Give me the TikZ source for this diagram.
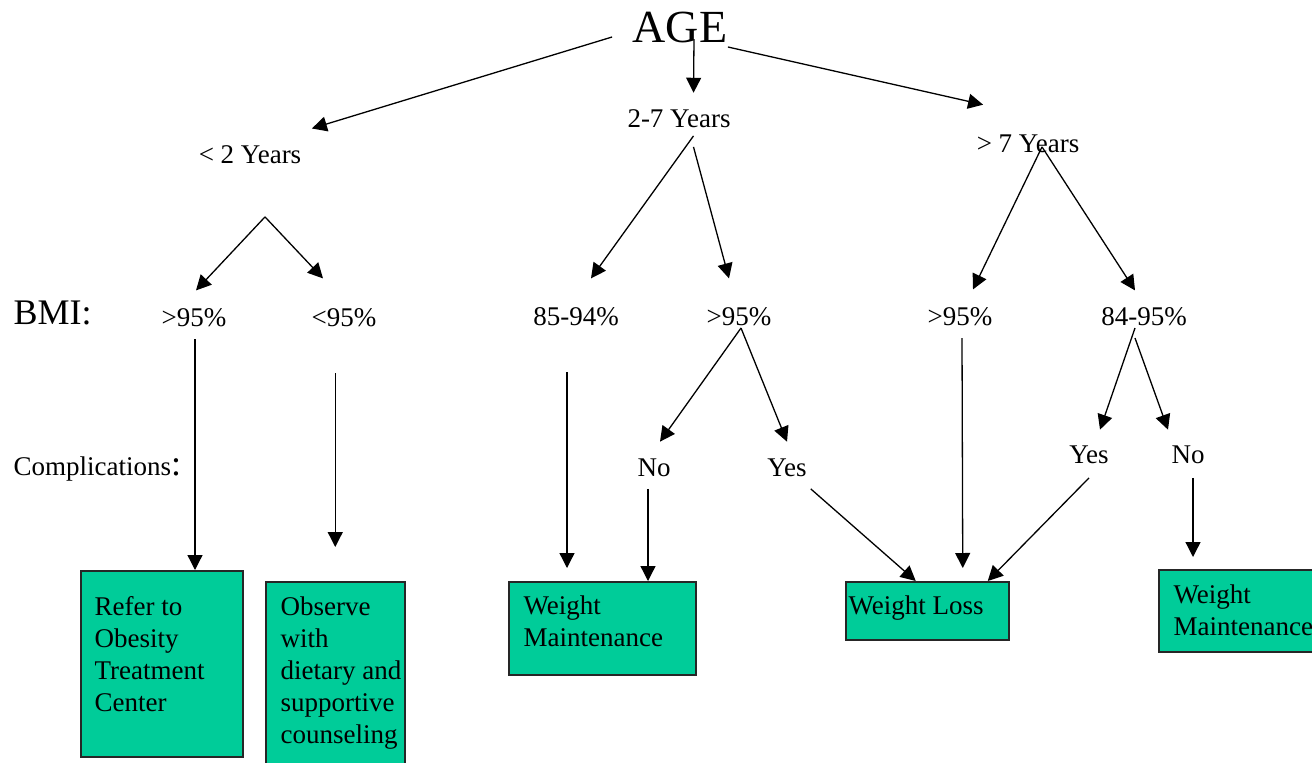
\documentclass[tikz,border=0pt]{standalone}
\usepackage{fontspec}
\setmainfont{Liberation Serif}
\usetikzlibrary{arrows.meta}
\definecolor{outgreen}{RGB}{0,204,153}

\begin{document}
\begin{tikzpicture}[x=1pt,y=-1pt,line width=1.3pt,>={Triangle[length=15pt,width=15pt]},
  lbl/.style={inner sep=0pt,anchor=base,font=\fontsize{27}{32}\selectfont},
  outcome/.style={draw=black!85,line width=1.5pt,fill=outgreen,inner sep=0pt,anchor=north west},
  outtext/.style={inner sep=0pt,anchor=north west,align=left,font=\fontsize{27}{32}\selectfont}]
  \useasboundingbox (0,0) rectangle (1312,763);
  % niveles
  \node[lbl,font=\fontsize{46}{50}\selectfont] (age) at (680,42) {AGE};
  \node[lbl] (lt2) at (250,163) {< 2 Years};
  \node[lbl] (y27) at (679,127) {2-7 Years};
  \node[lbl] (gt7) at (1028,152) {> 7 Years};
  \node[lbl,anchor=base west,font=\fontsize{36}{40}\selectfont] (bmi) at (13,324) {BMI:};
  \node[lbl,anchor=base west] (cmp) at (13,475) {Complications{\fontsize{36}{40}\selectfont:}};
  % BMI
  \node[lbl] (pA) at (194,326) {>95\%};
  \node[lbl] (pB) at (344,326) {<95\%};
  \node[lbl] (pC) at (576,325) {85-94\%};
  \node[lbl] (pD) at (739,325) {>95\%};
  \node[lbl] (pE) at (960,325) {>95\%};
  \node[lbl] (pF) at (1144,325) {84-95\%};
  % complicaciones
  \node[lbl] (no1) at (654,476) {No};
  \node[lbl] (yes1) at (787,476) {Yes};
  \node[lbl] (yes2) at (1089,463) {Yes};
  \node[lbl] (no2) at (1188,463) {No};
  % cajas
  \node[outcome,minimum width=162pt,minimum height=186pt] (refer) at (80,570) {};
  \node[outtext] (referT) at (94,596) {Refer to\\Obesity\\Treatment\\Center};
  \node[outcome,minimum width=139pt,minimum height=184pt] (observe) at (265,581) {};
  \node[outtext] (observeT) at (280,596) {Observe\\with\\dietary and\\supportive\\counseling};
  \node[outcome,minimum width=187pt,minimum height=93pt] (maintA) at (508,581) {};
  \node[outtext] (maintAT) at (523,595) {Weight\\Maintenance};
  \node[outcome,minimum width=163pt,minimum height=58pt] (loss) at (845,581) {};
  \node[outtext] (lossT) at (848,595) {Weight Loss};
  \node[outcome,minimum width=160pt,minimum height=82pt] (maintB) at (1158,569) {};
  \node[outtext] (maintBT) at (1173,584) {Weight\\Maintenance};
  % flechas desde AGE
  \draw[->] ([xshift=-20pt,yshift=-10pt]age.west) -- ([xshift=10pt,yshift=16pt]lt2.north east);
  \draw[->] ([xshift=14pt,yshift=4pt]age.south) -- ([xshift=14.5pt,yshift=15.7pt]y27.north);
  \draw[->] ([yshift=-20pt]age.east) -- ([xshift=7pt,yshift=29pt]gt7.north west);
  % < 2 anos
  \draw[->] ([xshift=15pt,yshift=-53pt]lt2.south) -- ([xshift=2pt,yshift=17pt]pA.north);
  \draw[->] ([xshift=15pt,yshift=-53pt]lt2.south) -- ([xshift=-21pt,yshift=29pt]pB.north);
  % 2-7 anos
  \draw[->] ([xshift=14.5pt,yshift=-8pt]y27.south) -- ([xshift=15pt,yshift=28pt]pC.north);
  \draw[->] ([xshift=14.5pt,yshift=-19pt]y27.south) -- ([xshift=-10pt,yshift=28pt]pD.north);
  % > 7 anos
  \draw[->] ([xshift=14pt,yshift=6pt]gt7.south) -- ([xshift=13pt,yshift=17pt]pE.north);
  \draw[->] ([xshift=14pt,yshift=6pt]gt7.south) -- ([xshift=-9pt,yshift=16pt]pF.north);
  % BMI -> complicaciones / cajas
  \draw[->] ([xshift=1pt,yshift=-12pt]pA.south) -- ([xshift=1pt]pA.south |- refer.north);
  \draw[->] ([yshift=-46pt]pB.south -| observe.north) -- ([yshift=34pt]observe.north);
  \draw[->] ([xshift=-9pt,yshift=-46pt]pC.south) -- ([xshift=59pt,yshift=13pt]maintA.north west);
  \draw[->] ([xshift=2pt,yshift=-2pt]pD.south) -- ([xshift=6pt,yshift=16pt]no1.north);
  \draw[->] ([xshift=2pt,yshift=-2pt]pD.south) -- ([yshift=16pt]yes1.north);
  \draw[->] ([xshift=2pt,yshift=-12pt]pE.south) -- ([xshift=35.5pt,yshift=13pt]loss.north);
  \draw[->] ([xshift=-9pt,yshift=-2pt]pF.south) -- ([xshift=11pt,yshift=15pt]yes2.north);
  \draw[->] ([xshift=-9pt,yshift=-12pt]pF.south) -- ([xshift=-20pt,yshift=15pt]no2.north);
  % complicaciones -> cajas
  \draw[->] ([xshift=-6pt,yshift=-12pt]no1.south) -- ([xshift=-6pt]no1.south |- maintA.north);
  \draw[->] ([xshift=3.5pt,yshift=-12pt]yes1.south east) -- ([xshift=-11.5pt]loss.north);
  \draw[->] ([yshift=-14pt]yes2.south) -- ([xshift=60.5pt]loss.north);
  \draw[->] ([xshift=5pt,yshift=-14pt]no2.south) -- ([xshift=35pt,yshift=12pt]maintB.north west);
\end{tikzpicture}
\end{document}
